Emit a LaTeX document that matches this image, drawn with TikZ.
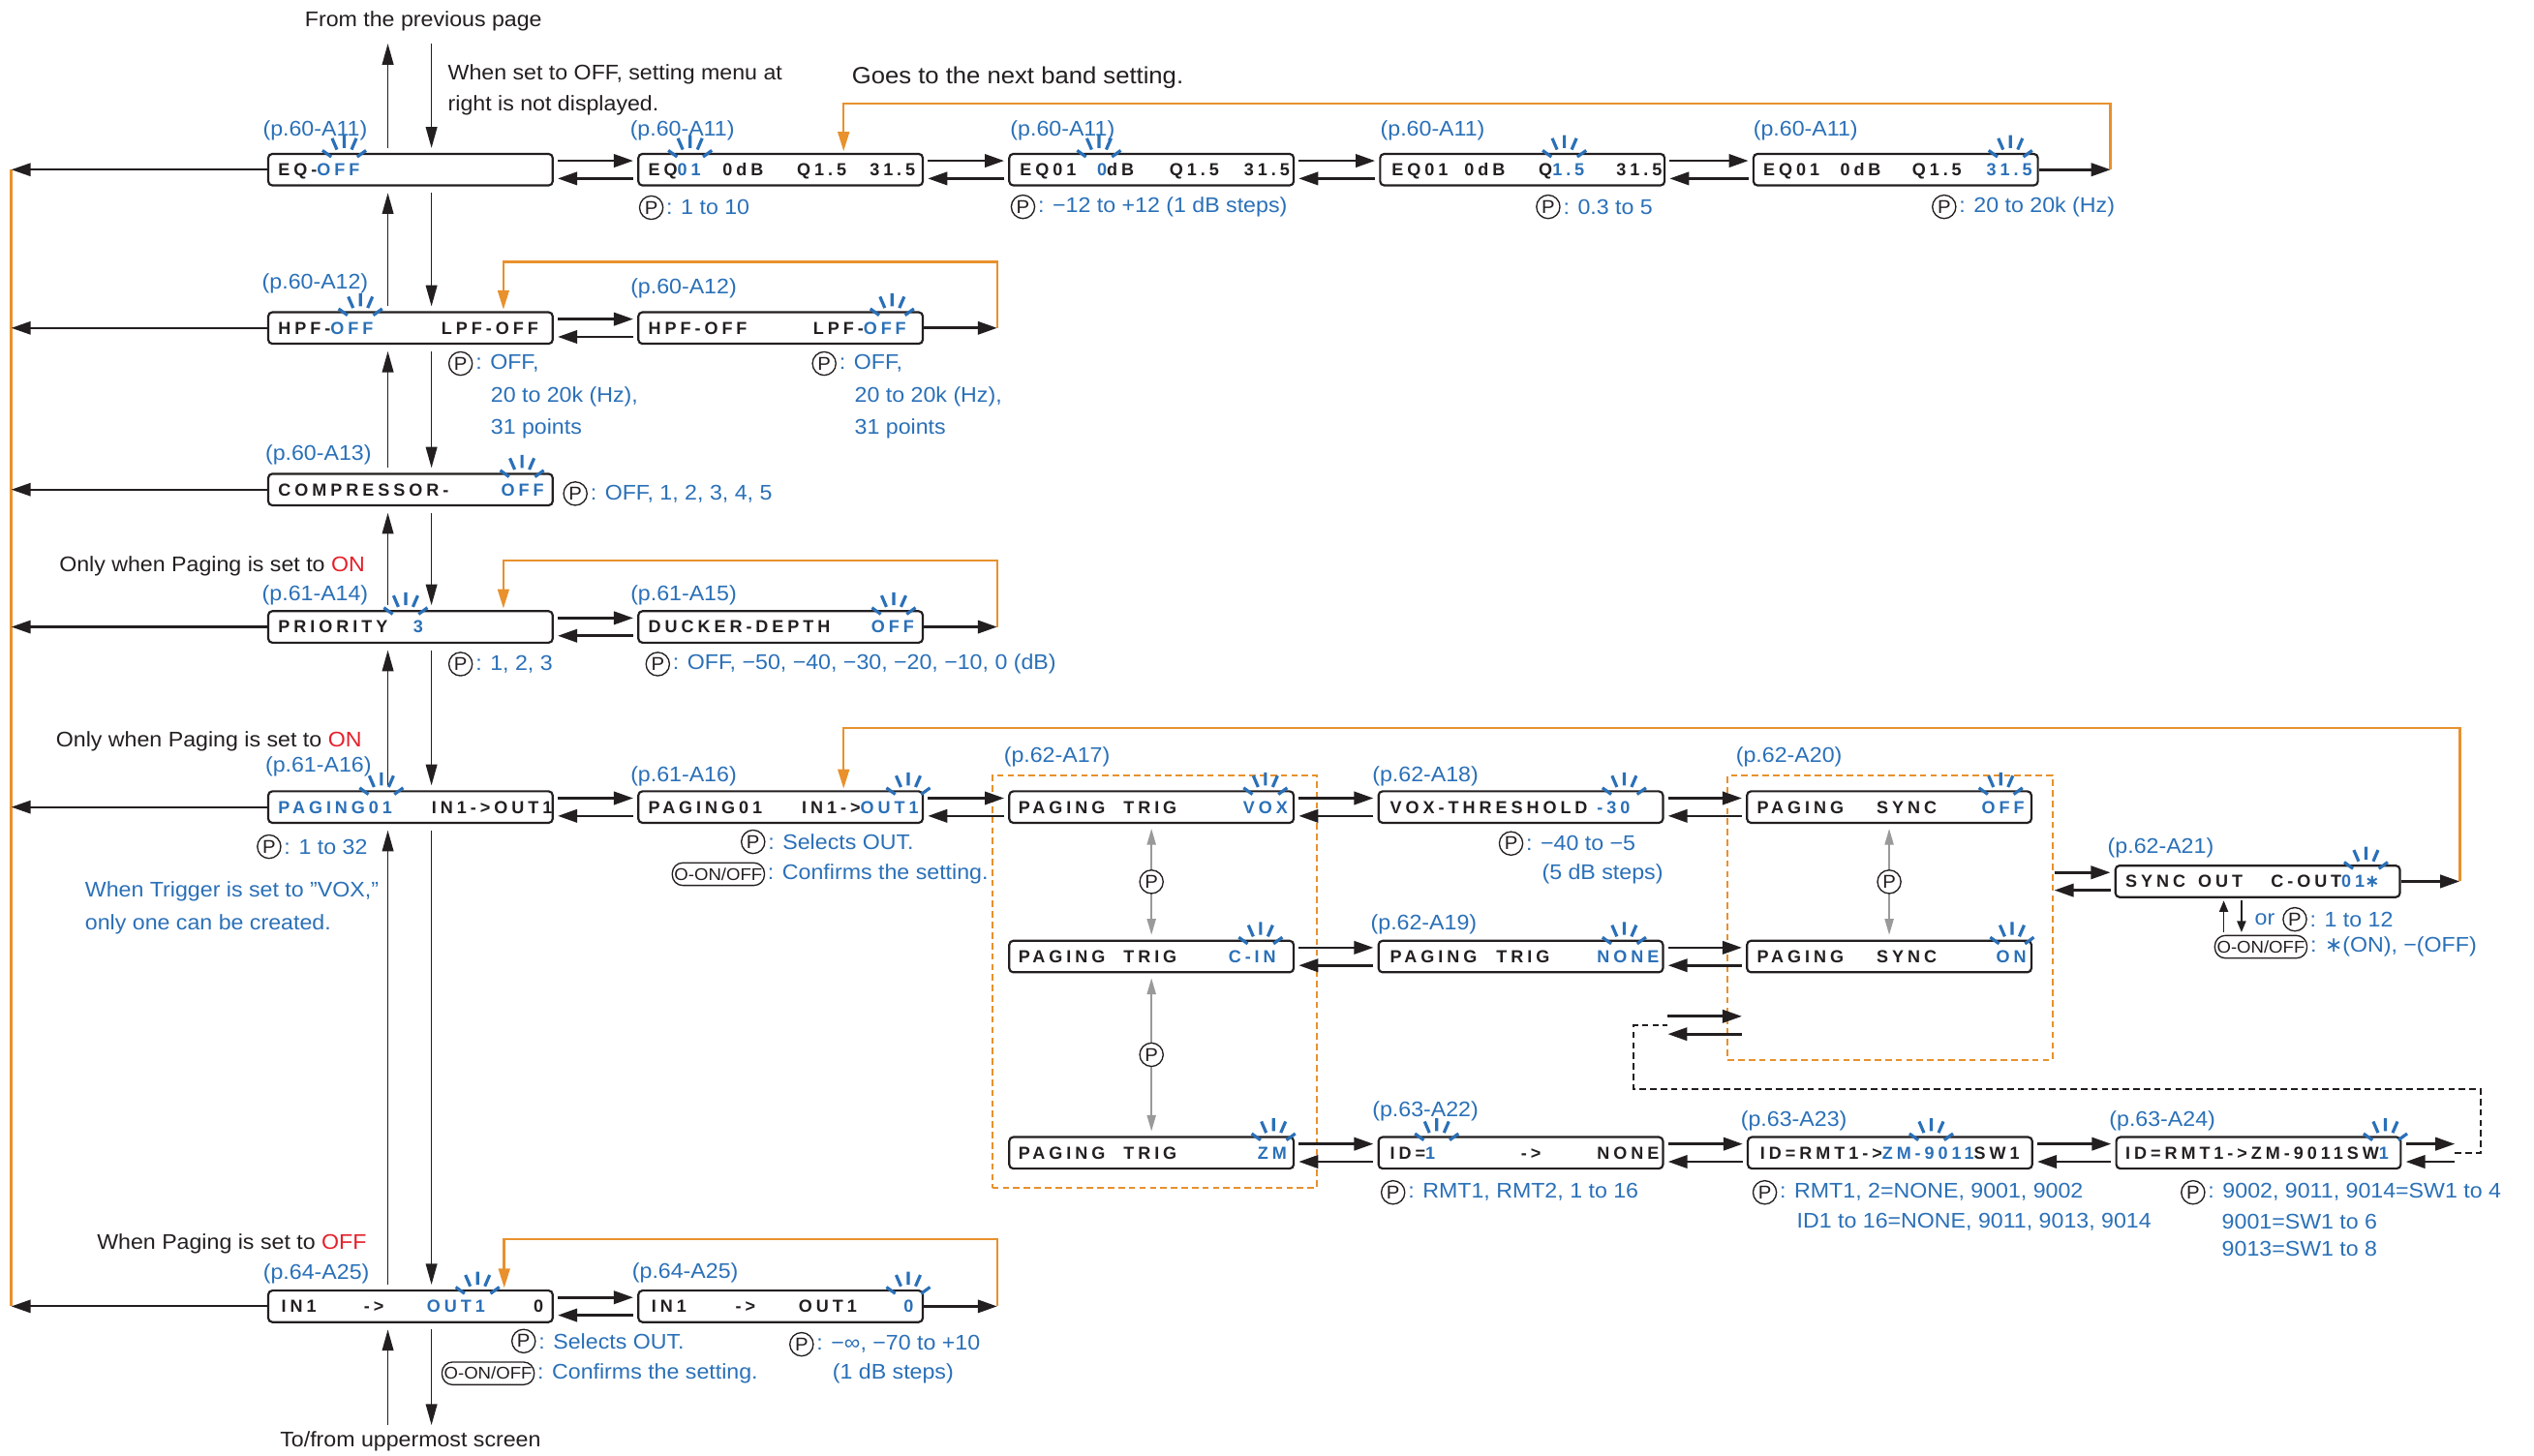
\documentclass[tikz,border=0pt]{standalone}
\usepackage{fontspec}
\setmainfont{Liberation Sans}[FakeStretch=1.06]
\newfontfamily\lcdfam{Liberation Sans}[LetterSpace=22]
\newfontfamily\symfam{DejaVu Sans}
\usetikzlibrary{arrows.meta}
\definecolor{pblue}{HTML}{2A70B8}
\definecolor{orng}{HTML}{E8912D}
\definecolor{pred}{HTML}{E5202A}
\definecolor{ink}{HTML}{231F20}
\definecolor{gry}{HTML}{9A9A9A}
\newcommand\bl[1]{\textcolor{pblue}{#1}}
\newcommand\labf{\fontsize{13.1}{15}\selectfont}
\newcommand\bigf{\fontsize{14.5}{16}\selectfont}
\newcommand\lcdf{\lcdfam\bfseries\fontsize{10.8}{12}\selectfont}
\newcommand\pcf{\fontsize{11.5}{12}\selectfont}
\newcommand\oof{\fontsize{10.5}{12}\selectfont}
\tikzset{
 lcdbox/.style={draw=ink, line width=1.3pt, rounded corners=2.5pt, minimum width=176pt, minimum height=19.5pt, inner sep=0pt, fill=white},
 lcd/.style={font=\lcdf, text=ink, anchor=base west, inner sep=0pt, yshift=-3.8pt},
 lbl/.style={font=\labf, text=pblue, anchor=west, inner sep=0pt},
 txt/.style={font=\labf, text=ink, inner sep=0pt},
 pc/.style={circle, draw=ink, line width=0.8pt, inner sep=0pt, minimum size=14.5pt, font=\pcf, text=ink},
 pcw/.style={pc, fill=white},
 onoff/.style={draw=ink, line width=0.8pt, rounded corners=6.5pt, minimum width=57pt, minimum height=14pt, inner sep=0pt, font=\oof, text=ink},
 harr/.style={draw=ink, line width=1.6pt, -{Triangle[length=12pt,width=8pt]}, shorten <=2.5pt, shorten >=2.5pt},
 larr/.style={draw=ink, line width=1.3pt, -{Triangle[length=12pt,width=8pt]}},
 varr/.style={draw=ink, line width=1pt, -{Triangle[length=13pt,width=7pt]}},
 sarr/.style={draw=ink, line width=1pt, -{Triangle[length=7pt,width=5.5pt]}},
 garr/.style={draw=gry, line width=1pt, {Triangle[length=10pt,width=5.5pt]}-{Triangle[length=10pt,width=5.5pt]}, shorten <=3pt, shorten >=3pt},
 oline/.style={draw=orng, line width=1.5pt},
 oarr/.style={draw=orng, line width=1.5pt, -{Triangle[length=12pt,width=7pt]}},
 obox/.style={draw=orng, line width=1.3pt, dash pattern=on 4pt off 2.5pt, inner sep=0pt},
 dline/.style={draw=ink, line width=1.3pt, dash pattern=on 4pt off 2.5pt},
 blinkst/.style={draw=pblue, line width=1.9pt},
 blink/.pic={\draw[blinkst] (0,-3)--(0,-11) (-4.5,-2)--(-7.5,-9) (4.5,-2)--(7.5,-9) (-8,2.5)--(-13.5,-1.5) (8,2.5)--(13.5,-1.5);}
}
\begin{document}
\begin{tikzpicture}[x=1pt,y=-1pt]
\useasboundingbox (0,0) rectangle (1568,901);
\fill[white] (0,0) rectangle (1568,901);

% dashed groups
\node[obox, minimum width=201pt, minimum height=255pt] (grpA) at (714.5,607.5) {};
\node[obox, minimum width=201pt, minimum height=176pt] (grpB) at (1169.5,568) {};

% LCD boxes
\node[lcdbox] (A1) at (254,105) {};
\node[lcdbox] (B1) at (483,105) {};
\node[lcdbox] (C1) at (712.5,105) {};
\node[lcdbox] (D1) at (942,105) {};
\node[lcdbox] (E1) at (1173,105) {};
\node[lcdbox] (A2) at (254,203) {};
\node[lcdbox] (B2) at (483,203) {};
\node[lcdbox] (A3) at (254,303) {};
\node[lcdbox] (A4) at (254,388) {};
\node[lcdbox] (B4) at (483,388) {};
\node[lcdbox] (A5) at (254,499.5) {};
\node[lcdbox] (B5) at (483,499.5) {};
\node[lcdbox] (C5) at (712.5,499.5) {};
\node[lcdbox] (D5) at (941,499.5) {};
\node[lcdbox] (E5) at (1169,499.5) {};
\node[lcdbox] (C6) at (712.5,592) {};
\node[lcdbox] (D6) at (941,592) {};
\node[lcdbox] (E6) at (1169,592) {};
\node[lcdbox] (C7) at (712.5,713.5) {};
\node[lcdbox] (D7) at (941,713.5) {};
\node[lcdbox] (E7) at (1169.5,713.5) {};
\node[lcdbox] (F7) at (1397.5,713.5) {};
\node[lcdbox] (SO) at (1397,545.5) {};
\node[lcdbox] (A8) at (254,808.5) {};
\node[lcdbox] (B8) at (483,808.5) {};

% coordinates
\coordinate (oT) at (7,105);
\coordinate (oB) at (7,808.5);
\coordinate (tU) at (240,27);
\coordinate (tD) at (267,27);
\coordinate (bU) at (240,882);
\coordinate (bD) at (267,882);
\coordinate (e1r) at (1306,105);
\coordinate (b2r) at (617,203);
\coordinate (b4r) at (617,388);
\coordinate (b8r) at (617,808.5);
\coordinate (sr) at (1522,545.5);
\coordinate (fr) at (1519,713.5);
\coordinate (dj) at (1032,634.5);
\coordinate (dk) at (1011,634.5);
\coordinate (su) at (1376,577);
\coordinate (sd) at (1387,577);
\coordinate (gBe) at (SO.west -| grpB.east);
\coordinate (dje) at (dj -| E6.west);

% left orange line and left arrows
\draw[oline] (oT) -- (oB);
\foreach \bx in {A1,A2,A3,A4,A5,A8} \draw[larr] (\bx.west) -- (\bx.west -| oT);

% main vertical arrows
\draw[varr, shorten <=3pt] ([xshift=-14pt]A1.north) -- (tU);
\draw[varr, shorten >=3pt] (tD) -- ([xshift=13pt]A1.north);
\foreach \ua/\la in {A1/A2,A2/A3,A3/A4,A4/A5,A5/A8} {
 \draw[varr, shorten <=3pt, shorten >=4pt] ([xshift=-14pt]\la.north) -- ([xshift=-14pt]\ua.south);
 \draw[varr, shorten <=4pt, shorten >=3pt] ([xshift=13pt]\ua.south) -- ([xshift=13pt]\la.north);
}
\draw[varr, shorten >=4pt] (bU) -- ([xshift=-14pt]A8.south);
\draw[varr, shorten <=4pt] ([xshift=13pt]A8.south) -- (bD);

% arrow pairs
\foreach \lf/\rt in {A1/B1,B1/C1,C1/D1,D1/E1,A2/B2,A4/B4,A5/B5,B5/C5,C5/D5,D5/E5,C6/D6,D6/E6,C7/D7,D7/E7,E7/F7,A8/B8} {
 \draw[harr] ([yshift=5.5pt]\lf.east) -- ([yshift=5.5pt]\rt.west);
 \draw[harr] ([yshift=-5.5pt]\rt.west) -- ([yshift=-5.5pt]\lf.east);
}
\draw[harr, shorten <=0.5pt] ([yshift=5.5pt]gBe) -- ([yshift=5.5pt]SO.west);
\draw[harr, shorten >=0.5pt] ([yshift=-5.5pt]SO.west) -- ([yshift=-5.5pt]gBe);

% orange loops
\draw[harr, shorten <=0pt, shorten >=0pt] (E1.east) -- (e1r);
\draw[oarr, shorten >=1pt] (e1r) -- ++(0,-41) -| ([xshift=39pt]B1.north);
\draw[harr, shorten <=0pt, shorten >=0pt] (B2.east) -- (b2r);
\draw[oarr, shorten >=1pt] (b2r) -- ++(0,-41) -| ([xshift=57.5pt]A2.north);
\draw[harr, shorten <=0pt, shorten >=0pt] (B4.east) -- (b4r);
\draw[oarr, shorten >=1pt] (b4r) -- ++(0,-41) -| ([xshift=57.5pt]A4.north);
\draw[harr, shorten <=0pt, shorten >=0pt] (B8.east) -- (b8r);
\draw[oarr, shorten >=1pt] (b8r) -- ++(0,-41.5) -| ([xshift=58pt]A8.north);
\draw[harr, shorten <=0pt, shorten >=0pt] (SO.east) -- (sr);
\draw[oarr, shorten >=1pt] (sr) -- ++(0,-95) -| ([xshift=39pt]B5.north);

% F7 out, dashed return
\draw[harr, shorten >=0pt] ([yshift=5.5pt]F7.east) -- ([yshift=5.5pt]fr);
\draw[harr, shorten <=0pt] ([yshift=-5.5pt]fr) -- ([yshift=-5.5pt]F7.east);
\draw[dline] (fr) -- ++(16,0) -- ++(0,-39.5) -| (dk) -- (dj);
\draw[harr, shorten <=0pt] ([yshift=5.5pt]dj) -- ([yshift=5.5pt]dje);
\draw[harr, shorten >=0pt] ([yshift=-5.5pt]dje) -- ([yshift=-5.5pt]dj);

% gray P arrows
\draw[garr] (C5.south) -- node[pcw] (g1) {P} (C6.north);
\draw[garr] (C6.south) -- node[pcw] (g2) {P} (C7.north);
\draw[garr] (E5.south) -- node[pcw] (g3) {P} (E6.north);

% sync small arrows
\draw[sarr, shorten >=1.5pt] (su) -- ([xshift=-21pt]SO.south);
\draw[sarr, shorten <=1.5pt] ([xshift=-10pt]SO.south) -- (sd);

% LCD texts
\node[lcd] (k1) at (172,105) {EQ-\bl{OFF}};
\node[lcd] (k2) at (401,105) {EQ\bl{01}};
\node[lcd] (k3) at (447,105) {0dB};
\node[lcd] (k4) at (493,105) {Q1.5};
\node[lcd] (k5) at (538,105) {31.5};
\node[lcd] (k6) at (631,105) {EQ01};
\node[lcd] (k7) at (678.7,105) {\bl{0}dB};
\node[lcd] (k8) at (723.5,105) {Q1.5};
\node[lcd] (k9) at (769.7,105) {31.5};
\node[lcd] (k10) at (861,105) {EQ01};
\node[lcd] (k11) at (906,105) {0dB};
\node[lcd] (k12) at (952,105) {Q\bl{1.5}};
\node[lcd] (k13) at (1000,105) {31.5};
\node[lcd] (k14) at (1091,105) {EQ01};
\node[lcd] (k15) at (1138.5,105) {0dB};
\node[lcd] (k16) at (1183,105) {Q1.5};
\node[lcd] (k17) at (1229,105) {\bl{31.5}};
\node[lcd] (k18) at (172,203) {HPF-\bl{OFF}};
\node[lcd] (k19) at (273,203) {LPF-OFF};
\node[lcd] (k20) at (401,203) {HPF-OFF};
\node[lcd] (k21) at (503,203) {LPF-\bl{OFF}};
\node[lcd] (k22) at (172,303) {COMPRESSOR-};
\node[lcd] (k23) at (310,303) {\bl{OFF}};
\node[lcd] (k24) at (172,388) {PRIORITY};
\node[lcd] (k25) at (255.5,388) {\bl{3}};
\node[lcd] (k26) at (401,388) {DUCKER-DEPTH};
\node[lcd] (k27) at (539,388) {\bl{OFF}};
\node[lcd] (k28) at (172,499.5) {\bl{PAGING01}};
\node[lcd] (k29) at (267,499.5) {IN1->OUT1};
\node[lcd] (k30) at (401,499.5) {PAGING01};
\node[lcd] (k31) at (496,499.5) {IN1->\bl{OUT1}};
\node[lcd] (k32) at (630,499.5) {PAGING};
\node[lcd] (k33) at (695,499.5) {TRIG};
\node[lcd] (k34) at (769,499.5) {\bl{VOX}};
\node[lcd] (k35) at (860,499.5) {VOX-THRESHOLD};
\node[lcd] (k36) at (988,499.5) {\bl{-30}};
\node[lcd] (k37) at (1087,499.5) {PAGING};
\node[lcd] (k38) at (1161,499.5) {SYNC};
\node[lcd] (k39) at (1226,499.5) {\bl{OFF}};
\node[lcd] (k40) at (630,592) {PAGING};
\node[lcd] (k41) at (695,592) {TRIG};
\node[lcd] (k42) at (760,592) {\bl{C-IN}};
\node[lcd] (k43) at (860,592) {PAGING};
\node[lcd] (k44) at (925.7,592) {TRIG};
\node[lcd] (k45) at (988,592) {\bl{NONE}};
\node[lcd] (k46) at (1087,592) {PAGING};
\node[lcd] (k47) at (1161,592) {SYNC};
\node[lcd] (k48) at (1235,592) {\bl{ON}};
\node[lcd] (k49) at (630,713.5) {PAGING};
\node[lcd] (k50) at (695,713.5) {TRIG};
\node[lcd] (k51) at (778,713.5) {\bl{ZM}};
\node[lcd] (k52) at (860,713.5) {ID=\bl{1}};
\node[lcd] (k53) at (941,713.5) {->};
\node[lcd] (k54) at (988,713.5) {NONE};
\node[lcd] (k55) at (1089,713.5) {ID=RMT1->\bl{ZM-9011}SW1};
\node[lcd] (k56) at (1315,713.5) {ID=RMT1->ZM-9011SW\bl{1}};
\node[lcd] (k57) at (1315,545.5) {SYNC};
\node[lcd] (k58) at (1360,545.5) {OUT};
\node[lcd] (k59) at (1405,545.5) {C-OUT\bl{01{\symfam ∗}}};
\node[lcd] (k60) at (174,808.5) {IN1};
\node[lcd] (k61) at (225,808.5) {->};
\node[lcd] (k62) at (264,808.5) {\bl{OUT1}};
\node[lcd] (k63) at (330,808.5) {0};
\node[lcd] (k64) at (403,808.5) {IN1};
\node[lcd] (k65) at (455,808.5) {->};
\node[lcd] (k66) at (494,808.5) {OUT1};
\node[lcd] (k67) at (559,808.5) {\bl{0}};

% blinks
\pic at ([xshift=-41pt]A1.north) {blink};
\pic at ([xshift=-56pt]B1.north) {blink};
\pic at ([xshift=-32.5pt]C1.north) {blink};
\pic at ([xshift=26pt]D1.north) {blink};
\pic at ([xshift=71pt]E1.north) {blink};
\pic at ([xshift=-31pt]A2.north) {blink};
\pic at ([xshift=69pt]B2.north) {blink};
\pic at ([xshift=69pt]A3.north) {blink};
\pic at ([xshift=-3pt]A4.north) {blink};
\pic at ([xshift=70pt]B4.north) {blink};
\pic at ([xshift=-18pt]A5.north) {blink};
\pic at ([xshift=79pt]B5.north) {blink};
\pic at ([xshift=70.5pt]C5.north) {blink};
\pic at ([xshift=64pt]D5.north) {blink};
\pic at ([xshift=69pt]E5.north) {blink};
\pic at ([xshift=67.5pt]C6.north) {blink};
\pic at ([xshift=64pt]D6.north) {blink};
\pic at ([xshift=76pt]E6.north) {blink};
\pic at ([xshift=75.5pt]C7.north) {blink};
\pic at ([xshift=-52pt]D7.north) {blink};
\pic at ([xshift=25.5pt]E7.north) {blink};
\pic at ([xshift=78.5pt]F7.north) {blink};
\pic at ([xshift=67pt]SO.north) {blink};
\pic at ([xshift=41.5pt]A8.north) {blink};
\pic at ([xshift=79pt]B8.north) {blink};

% black texts
\node[txt, anchor=center] (h1) at (262,13) {From the previous page};
\node[txt, anchor=west] (h2) at (277,46) {When set to OFF, setting menu at};
\node[txt, anchor=west] (h3) at (277,65) {right is not displayed.};
\node[txt, anchor=west, font=\bigf] (h4) at (527,48) {Goes to the next band setting.};
\node[txt, anchor=east] (h5) at (226,350.5) {Only when Paging is set to \textcolor{pred}{ON}};
\node[txt, anchor=east] (h6) at (224,459) {Only when Paging is set to \textcolor{pred}{ON}};
\node[txt, anchor=east] (h7) at (227,770) {When Paging is set to \textcolor{pred}{OFF}};
\node[txt, anchor=center] (h8) at (254,892) {To/from uppermost screen};

% page references
\node[lbl] (lA1) at (162.5,81) {(p.60-A11)};
\node[lbl] (lB1) at (389.7,81) {(p.60-A11)};
\node[lbl] (lC1) at (625,81) {(p.60-A11)};
\node[lbl] (lD1) at (854,81) {(p.60-A11)};
\node[lbl] (lE1) at (1084.8,81) {(p.60-A11)};
\node[lbl] (lA2) at (162,175.5) {(p.60-A12)};
\node[lbl] (lB2) at (390,178.6) {(p.60-A12)};
\node[lbl] (lA3) at (164,281.6) {(p.60-A13)};
\node[lbl] (lA4) at (162,368.5) {(p.61-A14)};
\node[lbl] (lB4) at (390,368.5) {(p.61-A15)};
\node[lbl] (lA5) at (164,474.3) {(p.61-A16)};
\node[lbl] (lB5) at (390,480.3) {(p.61-A16)};
\node[lbl] (lC5) at (621,468.5) {(p.62-A17)};
\node[lbl] (lD5) at (849,480.5) {(p.62-A18)};
\node[lbl] (lE5) at (1074,468.5) {(p.62-A20)};
\node[lbl] (lSO) at (1304,525) {(p.62-A21)};
\node[lbl] (lD6) at (848,572) {(p.62-A19)};
\node[lbl] (lD7) at (849,688) {(p.63-A22)};
\node[lbl] (lE7) at (1077,694) {(p.63-A23)};
\node[lbl] (lF7) at (1305,694) {(p.63-A24)};
\node[lbl] (lA8) at (162.7,788.3) {(p.64-A25)};
\node[lbl] (lB8) at (391,788) {(p.64-A25)};

% P notes
\node[pc] (pB1) at (403,128.5) {P};
\node[lbl] (qB1) at ([xshift=1.5pt]pB1.east) {: 1 to 10};
\node[pc] (pC1) at (633,128) {P};
\node[lbl] (qC1) at ([xshift=1.5pt]pC1.east) {: −12 to +12 (1 dB steps)};
\node[pc] (pD1) at (958,128) {P};
\node[lbl] (qD1) at ([xshift=1.5pt]pD1.east) {: 0.3 to 5};
\node[pc] (pE1) at (1203,128) {P};
\node[lbl] (qE1) at ([xshift=1.5pt]pE1.east) {: 20 to 20k (Hz)};
\node[pc] (pA2) at (285,225) {P};
\node[lbl] (qA2) at ([xshift=1.5pt]pA2.east) {: OFF,};
\node[lbl] (qA2b) at (303.5,245.6) {20 to 20k (Hz),};
\node[lbl] (qA2c) at (303.5,265.6) {31 points};
\node[pc] (pB2) at (510,225) {P};
\node[lbl] (qB2) at ([xshift=1.5pt]pB2.east) {: OFF,};
\node[lbl] (qB2b) at (528.7,245.6) {20 to 20k (Hz),};
\node[lbl] (qB2c) at (528.7,265.6) {31 points};
\node[pc] (pA3) at (356,305.5) {P};
\node[lbl] (qA3) at ([xshift=1.5pt]pA3.east) {: OFF, 1, 2, 3, 4, 5};
\node[pc] (pA4) at (285,411) {P};
\node[lbl] (qA4) at ([xshift=1.5pt]pA4.east) {: 1, 2, 3};
\node[pc] (pB4) at (407,411) {P};
\node[lbl] (qB4) at ([xshift=1.5pt]pB4.east) {: OFF, −50, −40, −30, −20, −10, 0 (dB)};
\node[pc] (pA5) at (166.5,524) {P};
\node[lbl] (qA5) at ([xshift=1.5pt]pA5.east) {: 1 to 32};
\node[lbl] (w1) at (52.5,552) {When Trigger is set to "VOX,"};
\node[lbl] (w2) at (52.5,572) {only one can be created.};
\node[pc] (pB5) at (466,521) {P};
\node[lbl] (qB5) at ([xshift=1.5pt]pB5.east) {: Selects OUT.};
\node[onoff] (oB5) at (444.5,541) {O-ON/OFF};
\node[lbl] (qB5b) at ([xshift=1.5pt]oB5.east) {: Confirms the setting.};
\node[pc] (pD5) at (935,522) {P};
\node[lbl] (qD5) at ([xshift=1.5pt]pD5.east) {: −40 to −5};
\node[lbl] (qD5b) at (954,541) {(5 dB steps)};
\node[lbl] (or1) at (1395,569) {or};
\node[pc] (pSO) at (1420,569) {P};
\node[lbl] (qSO) at ([xshift=1.5pt]pSO.east) {: 1 to 12};
\node[onoff] (oSO) at (1399,586) {O-ON/OFF};
\node[lbl] (qSO2) at ([xshift=1.5pt]oSO.east) {: {\symfam ∗}(ON), −(OFF)};
\node[pc] (pD7) at (862,738) {P};
\node[lbl] (qD7) at ([xshift=1.5pt]pD7.east) {: RMT1, RMT2, 1 to 16};
\node[pc] (pE7) at (1092,738) {P};
\node[lbl] (qE7) at ([xshift=1.5pt]pE7.east) {: RMT1, 2=NONE, 9001, 9002};
\node[lbl] (qE7b) at (1111.6,756) {ID1 to 16=NONE, 9011, 9013, 9014};
\node[pc] (pF7) at (1357,738) {P};
\node[lbl] (qF7) at ([xshift=1.5pt]pF7.east) {: 9002, 9011, 9014=SW1 to 4};
\node[lbl] (qF7b) at (1374.7,756) {9001=SW1 to 6};
\node[lbl] (qF7c) at (1374.7,773) {9013=SW1 to 8};
\node[pc] (pA8) at (324,830) {P};
\node[lbl] (qA8) at ([xshift=1.5pt]pA8.east) {: Selects OUT.};
\node[onoff] (oA8) at (302,850) {O-ON/OFF};
\node[lbl] (qA8b) at ([xshift=1.5pt]oA8.east) {: Confirms the setting.};
\node[pc] (pB8) at (496,832) {P};
\node[lbl] (qB8) at ([xshift=1.5pt]pB8.east) {: −∞, −70 to +10};
\node[lbl] (qB8b) at (515,850) {(1 dB steps)};
\end{tikzpicture}
\end{document}
